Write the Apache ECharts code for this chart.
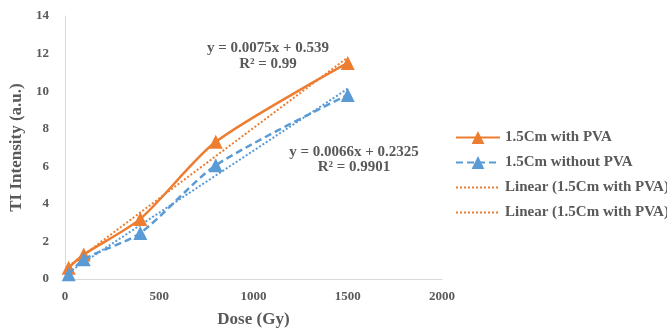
<!DOCTYPE html>
<html><head><meta charset="utf-8">
<script src="https://cdn.jsdelivr.net/npm/echarts@6/dist/echarts.min.js"></script>
<style>html,body{margin:0;padding:0;background:#fff}#c{width:667px;height:333px}</style>
</head><body><div id="c"></div>
<script>
var doses = [20, 100, 400, 800, 1500];
var withPVA = [0.6, 1.3, 3.2, 7.3, 11.5];
var withoutPVA = [0.25, 1.05, 2.45, 6.05, 9.8];
var trendWithX = [20, 1500];
var trendWithY = [0.69, 11.79];
var trendWithoutX = [20, 1500];
var trendWithoutY = [0.36, 10.13];
var xTicks = [0, 500, 1000, 1500, 2000];
var yTicks = [0, 2, 4, 6, 8, 10, 12, 14];
var names = ['1.5Cm with PVA', '1.5Cm without PVA', 'Linear (1.5Cm with PVA)', 'Linear (1.5Cm with PVA) '];
var eqWith = ['y = 0.0075x + 0.539', 'R² = 0.99'];
var eqWithout = ['y = 0.0066x + 0.2325', 'R² = 0.9901'];

function pairs(xs, ys){ return xs.map(function(x,i){return [x, ys[i]];}); }
var orange = '#ED7D31', blue = '#5B9BD5', txt = '#595959';
var font = '"Liberation Serif", "Times New Roman", serif';

var chart = echarts.init(document.getElementById('c'));
chart.setOption({
  animation: false,
  textStyle: {fontFamily: font},
  grid: {left: 58, right: 225, top: 16, bottom: 53, containLabel: false},
  xAxis: {
    type: 'value', min: xTicks[0], max: xTicks[xTicks.length-1], interval: 500,
    name: 'Dose (Gy)', nameLocation: 'middle', nameGap: 32,
    nameTextStyle: {fontFamily: font, fontWeight: 'bold', fontSize: 17, color: txt},
    axisLine: {show: true, lineStyle: {color: '#d9d9d9', width: 1}},
    axisTick: {show: false}, splitLine: {show: false},
    axisLabel: {fontFamily: font, fontWeight: 'bold', fontSize: 13, color: txt, margin: 11,
      formatter: function(v){ return String(v); }}
  },
  yAxis: {
    type: 'value', min: yTicks[0], max: yTicks[yTicks.length-1], interval: 2,
    name: 'TI Intensity (a.u.)', nameLocation: 'middle', nameGap: 35,
    nameTextStyle: {fontFamily: font, fontWeight: 'bold', fontSize: 17, color: txt},
    axisLine: {show: true, lineStyle: {color: '#d9d9d9', width: 1}},
    axisTick: {show: false}, splitLine: {show: false},
    axisLabel: {fontFamily: font, fontWeight: 'bold', fontSize: 13, color: txt, margin: 16}
  },
  legend: {
    orient: 'vertical', left: 450, top: 125, itemGap: 10, itemWidth: 44, itemHeight: 16,
    textStyle: {fontFamily: font, fontWeight: 'bold', fontSize: 15, color: txt},
    formatter: function(n){ return n.trim(); },
    data: [
      {name: names[0]},
      {name: names[1]},
      {name: names[2], itemStyle: {opacity: 0}},
      {name: names[3], lineStyle: {color: orange}, itemStyle: {color: orange, opacity: 0}}
    ]
  },
  series: [
    {name: names[2], type: 'line', data: pairs(trendWithX, trendWithY), symbol: 'none',
     lineStyle: {color: orange, width: 2, type: [2, 2]}, itemStyle: {color: orange}, z: 1},
    {name: names[3], type: 'line', data: pairs(trendWithoutX, trendWithoutY), symbol: 'none',
     lineStyle: {color: blue, width: 2, type: [2, 2]}, itemStyle: {color: blue}, z: 1},
    {name: names[0], type: 'line', data: pairs(doses, withPVA), symbol: 'triangle', symbolSize: 14,
     smooth: 0.25,
     lineStyle: {color: orange, width: 2.5}, itemStyle: {color: orange}, z: 3},
    {name: names[1], type: 'line', data: pairs(doses, withoutPVA), symbol: 'triangle', symbolSize: 14,
     smooth: 0.25,
     lineStyle: {color: blue, width: 2.5, type: [7, 4]}, itemStyle: {color: blue}, z: 4}
  ],
  graphic: [
    {type: 'text', x: 268, y: 40, style: {text: eqWith.join('\n'), font: 'bold 15px ' + font, fill: txt, lineHeight: 16, align: 'center'}},
    {type: 'text', x: 354, y: 145, style: {text: eqWithout.join('\n'), font: 'bold 15px ' + font, fill: txt, lineHeight: 15, align: 'center'}}
  ]
});
</script></body></html>
